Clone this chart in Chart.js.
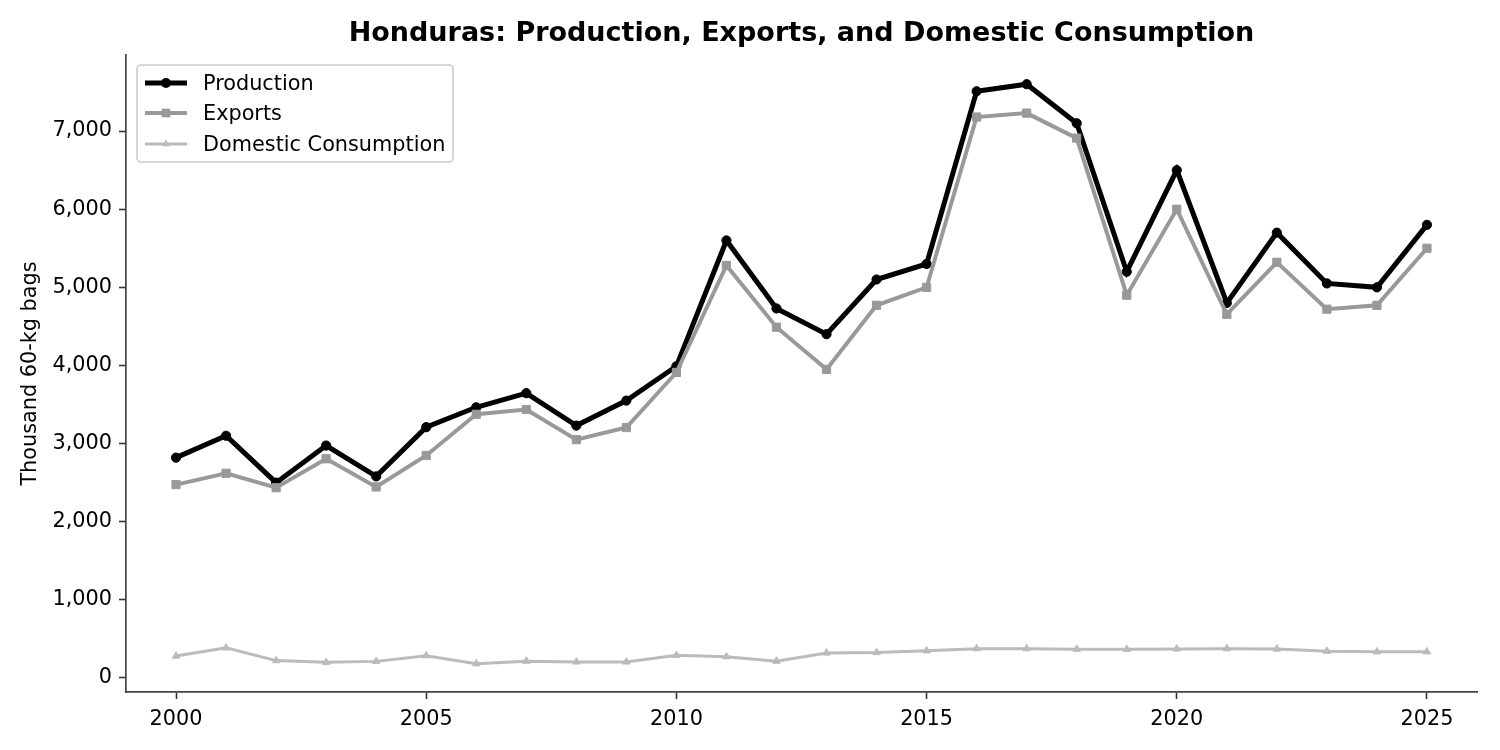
<!DOCTYPE html>
<html>
<head>
<meta charset="utf-8">
<title>Honduras: Production, Exports, and Domestic Consumption</title>
<script src="https://cdn.jsdelivr.net/npm/chart.js@4/dist/chart.umd.min.js"></script>
<style>
    html, body { margin: 0; padding: 0; background: #fff; }
    #wrap { width: 1500px; height: 750px; }
</style>
</head>
<body>
<div id="wrap"><canvas id="chart" width="1500" height="750"></canvas></div>
<script>
// values, thousand 60-kg bags
const years = [2000, 2001, 2002, 2003, 2004, 2005, 2006, 2007, 2008, 2009, 2010, 2011, 2012,
    2013, 2014, 2015, 2016, 2017, 2018, 2019, 2020, 2021, 2022, 2023, 2024, 2025];
const production = [2820, 3100, 2500, 2975, 2580, 3210, 3465, 3645, 3230, 3550, 3990, 5600, 4730,
    4400, 5100, 5300, 7510, 7600, 7100, 5200, 6500, 4800, 5700, 5050, 5000, 5800];
const exportsBags = [2475, 2620, 2435, 2805, 2445, 2848, 3375, 3436, 3050, 3205, 3910, 5280, 4490,
    3950, 4770, 5000, 7180, 7230, 6910, 4900, 6000, 4655, 5320, 4720, 4770, 5500];
const domestic = [280, 385, 222, 200, 212, 285, 182, 215, 205, 205, 290, 272, 215,
    320, 325, 348, 375, 375, 368, 368, 372, 375, 370, 342, 335, 335];
const xTicks = [2000, 2005, 2010, 2015, 2020, 2025];
const yTicks = [0, 1000, 2000, 3000, 4000, 5000, 6000, 7000];

const titleText = 'Honduras: Production, Exports, and Domestic Consumption';
const yLabel = 'Thousand 60-kg bags';
const FONT = '"DejaVu Sans", Verdana, sans-serif';

function toPoints(values) {
    return values.map((v, i) => ({ x: years[i], y: v }));
}

// draws a small marker like the line's point style
function drawMarker(ctx, style, x, y, color) {
    ctx.fillStyle = color;
    ctx.beginPath();
    if (style === 'circle') {
        ctx.arc(x, y, 5, 0, Math.PI * 2);
    } else if (style === 'rect') {
        ctx.rect(x - 4.3, y - 4.3, 8.6, 8.6);
    } else {
        ctx.moveTo(x, y - 4.5);
        ctx.lineTo(x + 3.9, y + 2.3);
        ctx.lineTo(x - 3.9, y + 2.3);
        ctx.closePath();
    }
    ctx.fill();
}

// title, y label and a matplotlib-like legend box
const decorPlugin = {
    id: 'decor',
    afterDraw(chart) {
        const ctx = chart.ctx;
        const area = chart.chartArea;
        ctx.save();

        ctx.fillStyle = '#000';
        ctx.font = 'bold 27px ' + FONT;
        ctx.textAlign = 'center';
        ctx.textBaseline = 'middle';
        ctx.fillText(titleText, (area.left + area.right) / 2, 34);

        ctx.save();
        ctx.translate(31, (area.top + area.bottom) / 2);
        ctx.rotate(-Math.PI / 2);
        ctx.font = '20.8px ' + FONT;
        ctx.fillText(yLabel, 0, 0);
        ctx.restore();

        // legend
        const bx = 137, by = 65, bw = 316, bh = 97, r = 4;
        ctx.beginPath();
        ctx.moveTo(bx + r, by);
        ctx.arcTo(bx + bw, by, bx + bw, by + bh, r);
        ctx.arcTo(bx + bw, by + bh, bx, by + bh, r);
        ctx.arcTo(bx, by + bh, bx, by, r);
        ctx.arcTo(bx, by, bx + bw, by, r);
        ctx.closePath();
        ctx.fillStyle = 'rgba(255,255,255,0.8)';
        ctx.fill();
        ctx.strokeStyle = '#cccccc';
        ctx.lineWidth = 1.6;
        ctx.stroke();

        const rows = [83, 113, 144];
        chart.data.datasets.forEach((ds, i) => {
            const y = rows[i];
            ctx.strokeStyle = ds.borderColor;
            ctx.lineWidth = ds.borderWidth;
            ctx.beginPath();
            ctx.moveTo(145, y);
            ctx.lineTo(187, y);
            ctx.stroke();
            drawMarker(ctx, ds.pointStyle, 166, y, ds.borderColor);
            ctx.fillStyle = '#000';
            ctx.font = '20.8px ' + FONT;
            ctx.textAlign = 'left';
            ctx.textBaseline = 'middle';
            ctx.fillText(ds.label, 203, y + 2);
        });

        ctx.restore();
    }
};

const ctx = document.getElementById('chart').getContext('2d');

new Chart(ctx, {
    type: 'line',
    data: {
        datasets: [
            {
                label: 'Production',
                data: toPoints(production),
                borderColor: '#000000',
                backgroundColor: '#000000',
                borderWidth: 5,
                pointStyle: 'circle',
                pointRadius: 4.6,
                pointBorderWidth: 1,
                order: 3
            },
            {
                label: 'Exports',
                data: toPoints(exportsBags),
                borderColor: '#999999',
                backgroundColor: '#999999',
                borderWidth: 4,
                pointStyle: 'rect',
                pointRadius: 5.8,
                pointBorderWidth: 1,
                order: 2
            },
            {
                label: 'Domestic Consumption',
                data: toPoints(domestic),
                borderColor: '#bbbbbb',
                backgroundColor: '#bbbbbb',
                borderWidth: 3,
                pointStyle: 'triangle',
                pointRadius: 4.3,
                pointBorderWidth: 1,
                order: 1
            }
        ]
    },
    options: {
        responsive: false,
        animation: false,
        devicePixelRatio: 1,
        layout: { padding: { left: 0, right: 23, top: 55, bottom: 0 } },
        elements: { line: { tension: 0 } },
        plugins: {
            legend: { display: false },
            title: { display: false },
            tooltip: { enabled: false }
        },
        scales: {
            x: {
                type: 'linear',
                min: 1999,
                max: 2026,
                afterFit: (scale) => { scale.height = 58; },
                afterBuildTicks: (scale) => { scale.ticks = xTicks.map(v => ({ value: v })); },
                grid: {
                    display: true,
                    drawOnChartArea: false,
                    drawTicks: true,
                    tickLength: 7,
                    tickWidth: 1.6,
                    tickColor: '#333333'
                },
                border: { display: true, color: '#444444', width: 1.7 },
                ticks: {
                    padding: 8,
                    color: '#000',
                    font: { family: FONT, size: 20.8 },
                    maxRotation: 0,
                    callback: (v) => String(v)
                }
            },
            y: {
                type: 'linear',
                min: -180,
                max: 7974,
                afterFit: (scale) => { scale.width = 126; },
                afterBuildTicks: (scale) => { scale.ticks = yTicks.map(v => ({ value: v })); },
                grid: {
                    display: true,
                    drawOnChartArea: false,
                    drawTicks: true,
                    tickLength: 7,
                    tickWidth: 1.6,
                    tickColor: '#333333'
                },
                border: { display: true, color: '#444444', width: 1.7 },
                ticks: {
                    padding: 7,
                    color: '#000',
                    font: { family: FONT, size: 20.8 },
                    callback: (v) => v.toLocaleString('en-US')
                }
            }
        }
    },
    plugins: [decorPlugin]
});
</script>
</body>
</html>
